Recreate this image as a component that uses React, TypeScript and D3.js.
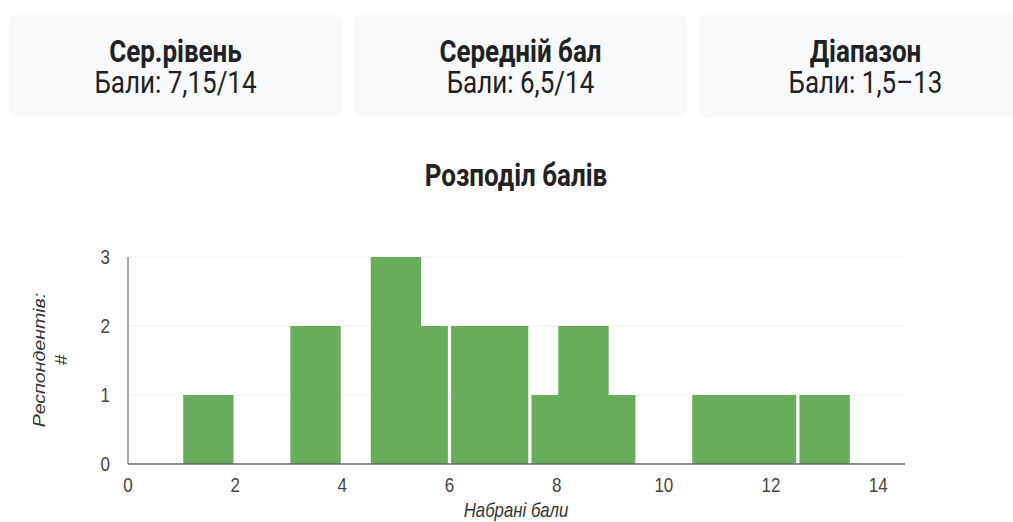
import React from "react";
import * as d3 from "d3";

const scores = [1.5, 3.5, 5, 5.5, 6.5, 7, 8, 8.5, 9, 11, 11.5, 12, 13];
const counts = [1, 2, 3, 2, 2, 2, 1, 2, 1, 1, 1, 1, 1];
const cardTitles = ["Сер.рівень", "Середній бал", "Діапазон"];
const cardValues = ["Бали: 7,15/14", "Бали: 6,5/14", "Бали: 1,5–13"];
const xTicks = [0, 2, 4, 6, 8, 10, 12, 14];
const yTicks = [0, 1, 2, 3];
const chartTitle = "Розподіл балів";
const xTitle = "Набрані бали";
const yTitle1 = "Респондентів:";
const yTitle2 = "#";

const W = 1013;
const H = 522;
const ROBOTO = "Roboto, 'Noto Sans', sans-serif";
const ARIAL = "'Liberation Sans', Arial, sans-serif";
const SY = 1.2;

function T(props: any) {
  const { x, y, sx = 1, sy = SY, rot = 0, children, ...rest } = props;
  return (
    <text
      transform={`translate(${x},${y}) rotate(${rot}) scale(${sx},${sy})`}
      {...rest}
    >
      {children}
    </text>
  );
}

export default function App() {
  const x = d3.scaleLinear().domain([0, 14.5]).range([128, 905]);
  const y = d3.scaleLinear().domain([0, 3]).range([464, 257]);
  const half = 0.47;
  const cardW = 333;
  const cardGap = 12;
  return (
    <svg
      width={W}
      height={H}
      style={{ position: "absolute", left: 0, top: 0, overflow: "hidden" }}
    >
      <rect width={W} height={H} fill="#fff" />
      {cardTitles.map((t, i) => {
        const cx0 = 9 + i * (cardW + cardGap);
        return (
          <g key={t}>
            <rect x={cx0} y={15} width={cardW} height={102} rx={7} fill="#f8f9fa" />
            <T
              x={cx0 + cardW / 2}
              y={62}
              textAnchor="middle"
              fontFamily={ROBOTO}
              fontWeight={700}
              fontSize={26}
              fill="#202124"
            >
              {t}
            </T>
            <T
              x={cx0 + cardW / 2}
              y={93}
              textAnchor="middle"
              fontFamily={ROBOTO}
              fontSize={26}
              fill="#202124"
            >
              {cardValues[i]}
            </T>
          </g>
        );
      })}
      <T
        x={516}
        y={186}
        textAnchor="middle"
        fontFamily={ROBOTO}
        fontWeight={700}
        fontSize={26}
        fill="#222"
      >
        {chartTitle}
      </T>
      {yTicks.map((v) => (
        <g key={v}>
          {v > 0 && (
            <line x1={x(0)} x2={905} y1={y(v)} y2={y(v)} stroke="#f0f0f0" strokeWidth={1} />
          )}
          <T
            x={110}
            y={y(v) + 7}
            textAnchor="end"
            fontFamily={ARIAL}
            fontSize={17}
            fill="#444"
          >
            {v}
          </T>
        </g>
      ))}
      {scores.map((s, i) => (
        <rect
          key={s}
          x={x(s - half)}
          y={y(counts[i])}
          width={x(s + half) - x(s - half)}
          height={y(0) - y(counts[i])}
          fill="#68ac5c"
        />
      ))}
      <line x1={x(0)} x2={x(0)} y1={257} y2={y(0)} stroke="#777" strokeWidth={1.3} />
      <line x1={x(0)} x2={905} y1={y(0)} y2={y(0)} stroke="#666" strokeWidth={1.6} />
      {xTicks.map((v) => (
        <T
          key={v}
          x={x(v)}
          y={492}
          textAnchor="middle"
          fontFamily={ARIAL}
          fontSize={17}
          fill="#444"
        >
          {v}
        </T>
      ))}
      <T
        x={516}
        y={517}
        textAnchor="middle"
        fontFamily={ARIAL}
        fontStyle="italic"
        fontSize={16.8}
        fill="#333"
      >
        {xTitle}
      </T>
      <T
        x={45}
        y={360}
        rot={-90}
        sx={SY}
        sy={1}
        textAnchor="middle"
        fontFamily={ARIAL}
        fontStyle="italic"
        fontSize={16.3}
        fill="#333"
      >
        {yTitle1}
      </T>
      <T
        x={67}
        y={360}
        rot={-90}
        sx={SY}
        sy={1}
        textAnchor="middle"
        fontFamily={ARIAL}
        fontStyle="italic"
        fontSize={16.3}
        fill="#333"
      >
        {yTitle2}
      </T>
    </svg>
  );
}
